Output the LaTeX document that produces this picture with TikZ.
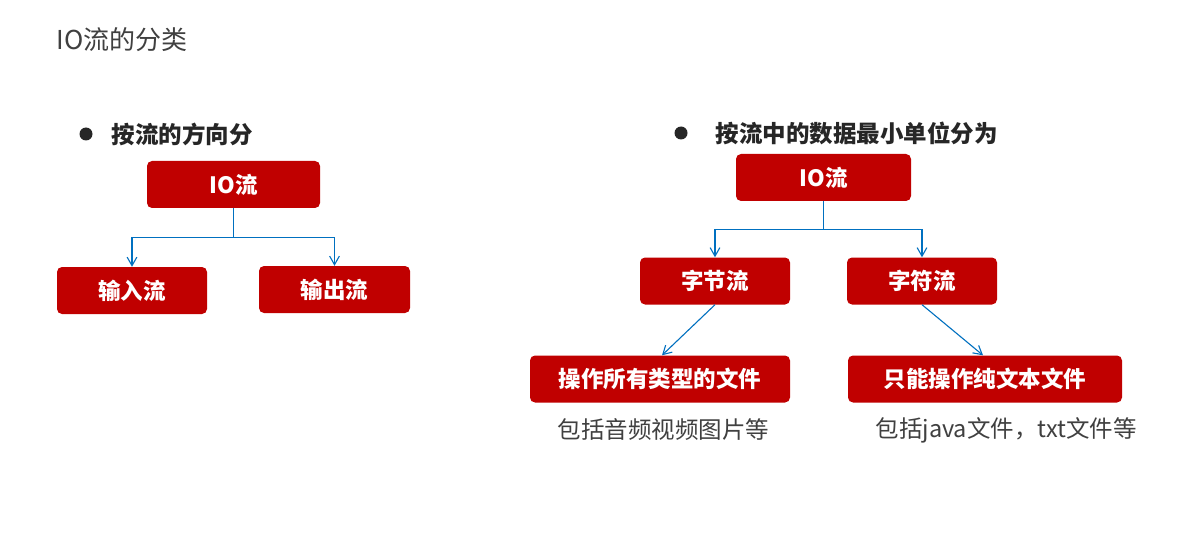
\documentclass[tikz,border=0pt]{standalone}
\usepackage{fontspec}
\newfontfamily\cjk{Noto Sans CJK SC}
\usetikzlibrary{arrows.meta,positioning}
\definecolor{boxred}{RGB}{192,0,0}
\definecolor{flowblue}{RGB}{0,112,192}
\definecolor{txtgray}{RGB}{64,64,64}
\tikzset{
  catbox/.style={fill=boxred, rounded corners=5pt, text=white, inner sep=0pt,
    minimum height=47pt, font=\cjk\bfseries\fontsize{22.5}{22.5}\selectfont},
  flowln/.style={-{Straight Barb[length=3mm,width=3.4mm]}, line width=1.1pt, flowblue},
  bulletlbl/.style={anchor=west, text=black!85, font=\cjk\bfseries\fontsize{23.5}{23.5}\selectfont},
  notelbl/.style={anchor=west, text=txtgray, font=\cjk\fontsize{23.5}{23.5}\selectfont},
}
\newcommand{\bulletdot}[1]{\fill[black!85] #1 circle (6.5pt);}

\begin{document}
\begin{tikzpicture}[x=1pt, y=-1pt]
    \useasboundingbox[fill=white] (0,0) rectangle (1191,548);
    % title
    \node[anchor=west, text=txtgray, font=\cjk\fontsize{26}{26}\selectfont] (title) at (53,40) {IO流的分类};
    % left: by direction
    \bulletdot{(86,134)}
    \node[bulletlbl] (dirlbl) at (108,134) {按流的方向分};
    \node[catbox, minimum width=173pt] (io1) at (233.5,184.5) {IO流};
    \node[catbox, minimum width=150pt] (instream) at (132,290.5) {输入流};
    \node[catbox, minimum width=151pt] (outstream) at (334.5,289.5) {输出流};
    \draw[flowln] (io1.south) -- ++(0,29) -| (instream.north);
    \draw[flowln] (io1.south) -- ++(0,29) -| (outstream.north);
    % right: by data unit
    \bulletdot{(681,133)}
    \node[bulletlbl] (unitlbl) at (712,133) {按流中的数据最小单位分为};
    \node[catbox, minimum width=175pt] (io2) at (823.5,177.5) {IO流};
    \node[catbox, minimum width=150pt] (bytestream) at (715,281) {字节流};
    \node[catbox, minimum width=150pt] (charstream) at (922,281) {字符流};
    \node[catbox, minimum width=260pt] (bytefile) at (660,379) {操作所有类型的文件};
    \node[catbox, minimum width=274pt] (charfile) at (985,379) {只能操作纯文本文件};
    \draw[flowln] (io2.south) -- ++(0,28) -| (bytestream.north);
    \draw[flowln] (io2.south) -- ++(0,28) -| (charstream.north);
    \draw[flowln] (bytestream.south) -- (bytefile.north -| 662,0);
    \draw[flowln] (charstream.south) -- (charfile.north -| 983,0);
    % notes
    \node[notelbl] (bytenote) at (554,430) {包括音频视频图片等};
    \node[notelbl] (charnote) at (872,430) {包括java文件，txt文件等};
\end{tikzpicture}
\end{document}
